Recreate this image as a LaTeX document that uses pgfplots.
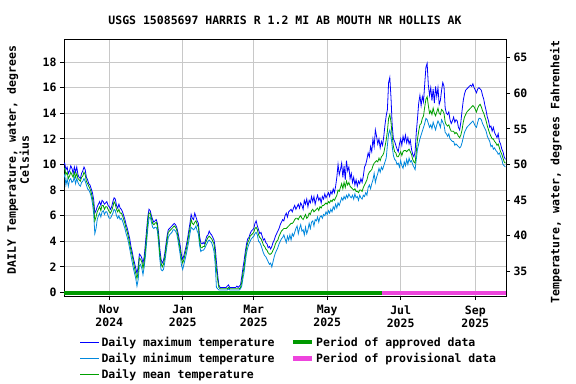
\documentclass[border=0pt]{standalone}
\usepackage{fontspec}
\setmainfont{DejaVu Sans Mono}
\usepackage{pgfplots}
\pgfplotsset{compat=1.18}
\usepackage{pgfplotstable}
\definecolor{cmax}{HTML}{0000FF}
\definecolor{cmin}{HTML}{0088DD}
\definecolor{cmean}{HTML}{00A000}
\definecolor{capp}{HTML}{009900}
\definecolor{cprov}{HTML}{EE44DD}
\definecolor{cgrid}{HTML}{C8C8C8}
\newcommand{\uf}{\fontsize{11.5bp}{13bp}\selectfont\bfseries}

\pgfplotstableread{
day max min mean
-7 10.0 9.0 9.6
-6 10.1 9.2 9.7
-5 9.6 8.4 9.2
-4 9.8 8.9 9.4
-3 9.3 8.3 8.9
-2 9.5 8.8 9.1
-1 9.9 8.9 9.4
0 9.7 8.6 9.2
1 9.3 8.7 9.0
2 9.8 9.0 9.4
3 9.4 8.5 9.0
4 9.8 8.9 9.3
5 9.2 8.6 8.9
6 9.0 8.4 8.8
7 8.9 8.3 8.7
8 9.3 8.6 9.0
9 9.5 8.7 9.1
10 9.8 8.9 9.4
11 9.6 8.7 9.2
12 9.0 8.4 8.7
13 8.8 8.1 8.5
14 8.5 8.0 8.3
15 8.4 7.8 8.1
16 8.1 7.5 7.8
17 7.8 7.0 7.4
18 7.3 6.2 6.8
19 6.2 4.6 5.6
20 6.4 5.0 5.9
21 6.7 5.7 6.3
22 6.9 6.0 6.5
23 7.1 6.2 6.7
24 6.8 5.9 6.4
25 7.2 6.3 6.8
26 7.1 6.4 6.8
27 6.9 6.1 6.5
28 7.0 6.3 6.7
29 7.1 6.3 6.7
30 6.8 6.0 6.5
31 6.7 5.8 6.3
32 6.5 5.8 6.2
33 6.7 6.0 6.4
34 7.1 6.2 6.7
35 7.4 6.5 7.1
36 7.3 6.4 6.9
37 6.8 6.0 6.5
38 6.6 5.8 6.3
39 6.9 6.0 6.5
40 6.6 5.7 6.2
41 6.5 5.8 6.2
42 6.3 5.6 6.0
43 6.0 5.3 5.7
44 5.7 5.0 5.4
45 5.3 4.6 5.0
46 5.0 4.3 4.7
47 4.6 3.9 4.3
48 4.2 3.4 3.8
49 3.6 2.9 3.3
50 3.2 2.4 2.9
51 2.7 1.9 2.4
52 2.3 1.5 1.9
53 1.9 1.1 1.5
54 1.5 0.5 1.1
55 2.0 1.0 1.6
56 3.0 2.1 2.7
57 2.9 2.2 2.6
58 2.7 1.9 2.4
59 2.3 1.4 1.9
60 2.8 2.0 2.4
61 3.8 2.8 3.3
62 4.9 3.9 4.4
63 5.9 5.0 5.6
64 6.5 5.8 6.2
65 6.4 5.9 6.2
66 6.0 5.5 5.8
67 5.7 5.1 5.4
68 5.5 5.0 5.3
69 5.6 5.1 5.4
70 5.7 5.1 5.5
71 5.4 4.8 5.2
72 4.6 3.8 4.2
73 3.4 2.6 3.0
74 2.6 1.8 2.3
75 2.3 1.7 2.0
76 2.5 1.8 2.2
77 3.0 2.3 2.7
78 3.7 3.0 3.4
79 4.4 3.7 4.1
80 4.9 4.3 4.7
81 5.0 4.5 4.8
82 5.1 4.6 4.9
83 5.2 4.7 5.0
84 5.3 4.9 5.1
85 5.4 4.9 5.2
86 5.3 4.8 5.1
87 5.1 4.6 4.9
88 4.7 4.1 4.4
89 4.2 3.5 3.9
90 3.6 2.9 3.3
91 2.9 2.1 2.6
92 2.6 1.8 2.3
93 2.9 2.2 2.6
94 3.3 2.6 3.0
95 3.7 3.0 3.4
96 4.2 3.5 3.9
97 4.8 4.0 4.5
98 5.4 4.6 5.0
99 6.1 5.1 5.7
100 5.8 5.0 5.4
101 5.7 4.9 5.3
102 6.2 5.0 5.5
103 5.9 5.2 5.6
104 5.6 4.8 5.3
105 5.4 4.6 5.1
106 4.4 3.7 4.1
107 3.9 3.2 3.5
108 3.8 3.3 3.5
109 3.9 3.3 3.6
110 3.8 3.4 3.6
111 4.1 3.6 3.9
112 4.4 3.8 4.1
113 4.5 4.0 4.3
114 4.8 4.1 4.4
115 4.6 4.0 4.3
116 4.5 3.9 4.2
117 4.3 3.6 4.0
118 4.1 3.2 3.8
119 3.5 2.2 3.0
120 2.4 0.4 1.8
121 1.4 0.3 1.0
122 0.6 0.2 0.4
123 0.4 0.2 0.3
124 0.4 0.2 0.3
125 0.4 0.2 0.3
126 0.4 0.2 0.3
127 0.4 0.2 0.3
128 0.4 0.2 0.3
129 0.5 0.2 0.3
130 0.6 0.3 0.4
131 0.4 0.2 0.3
132 0.4 0.2 0.3
133 0.4 0.2 0.3
134 0.4 0.2 0.3
135 0.4 0.2 0.3
136 0.4 0.2 0.3
137 0.5 0.2 0.3
138 0.4 0.2 0.3
139 0.5 0.2 0.3
140 0.6 0.3 0.4
141 1.2 0.5 0.8
142 1.9 1.1 1.5
143 2.5 1.6 2.0
144 3.2 2.4 2.8
145 3.8 3.1 3.5
146 4.2 3.5 3.9
147 4.3 3.8 4.1
148 4.6 4.0 4.4
149 4.8 4.2 4.5
150 4.9 4.3 4.6
151 5.0 4.4 4.7
152 5.4 4.6 5.0
153 5.6 4.7 5.1
154 5.2 4.5 4.9
155 4.9 4.0 4.5
156 4.6 3.9 4.3
157 4.7 3.7 4.2
158 4.4 3.4 4.0
159 4.1 3.1 3.7
160 4.2 2.9 3.6
161 3.9 2.8 3.4
162 3.8 2.6 3.3
163 3.5 2.4 3.1
164 3.6 2.2 3.0
165 3.4 2.3 3.0
166 3.6 2.0 3.1
167 3.9 2.4 3.3
168 4.1 2.8 3.5
169 4.4 3.1 3.8
170 4.6 3.3 4.0
171 4.8 3.5 4.1
172 5.0 3.8 4.4
173 5.3 4.0 4.6
174 5.5 4.2 4.8
175 5.7 4.3 4.9
176 5.6 4.5 5.0
177 6.0 4.2 5.0
178 6.2 3.9 5.0
179 5.9 4.4 5.1
180 6.3 4.1 5.2
181 6.4 4.5 5.3
182 6.5 4.1 5.4
183 6.3 4.6 5.4
184 6.6 4.4 5.5
185 6.8 4.7 5.7
186 6.5 5.0 5.8
187 6.7 5.2 5.8
188 6.9 4.6 5.7
189 6.6 5.0 5.9
190 7.0 5.3 6.0
191 6.8 4.8 5.8
192 6.5 4.9 5.7
193 7.2 4.5 5.9
194 6.9 5.1 6.1
195 7.3 4.6 5.8
196 6.7 4.9 5.9
197 7.2 5.4 6.2
198 7.0 5.0 6.1
199 7.5 5.5 6.4
200 7.1 5.6 6.5
201 7.5 5.2 6.3
202 6.9 5.7 6.4
203 7.3 5.6 6.5
204 7.6 5.9 6.6
205 7.2 5.5 6.4
206 7.4 5.9 6.7
207 7.0 6.0 6.6
208 7.5 5.8 6.8
209 7.3 6.1 6.8
210 7.7 6.0 6.9
211 7.4 6.3 7.0
212 7.6 6.1 6.9
213 7.8 6.4 7.1
214 7.5 6.2 7.0
215 7.9 6.5 7.2
216 7.7 6.3 7.1
217 8.1 6.7 7.3
218 7.8 6.5 7.2
219 8.3 6.9 7.4
220 9.0 6.6 7.6
221 10.0 7.0 8.0
222 9.2 6.8 7.9
223 9.6 7.1 8.2
224 10.1 7.4 8.5
225 9.0 7.2 8.1
226 9.9 7.5 8.6
227 8.8 7.3 8.2
228 10.3 7.6 8.7
229 9.5 7.4 8.4
230 9.8 7.7 8.6
231 8.9 7.5 8.3
232 9.3 7.4 8.2
233 8.6 7.6 8.1
234 9.0 7.3 8.0
235 8.4 7.7 8.1
236 8.8 7.4 7.9
237 8.3 7.5 7.9
238 8.7 7.2 7.8
239 8.5 7.6 8.0
240 8.9 7.4 8.0
241 8.6 7.3 7.9
242 9.1 7.6 8.2
243 9.8 7.5 8.4
244 10.0 7.8 8.6
245 10.4 7.6 8.8
246 10.9 8.2 9.2
247 10.6 8.4 9.4
248 11.4 8.1 9.5
249 11.0 8.5 9.6
250 12.0 8.8 9.9
251 11.4 9.3 10.1
252 12.7 8.6 10.2
253 12.2 9.0 10.3
254 11.6 9.3 10.2
255 12.0 9.7 10.5
256 11.3 9.4 10.3
257 11.8 9.8 10.6
258 11.5 9.6 10.7
259 12.2 9.9 10.9
260 13.1 10.2 11.4
261 13.8 10.5 11.9
262 14.3 11.5 12.6
263 16.4 12.4 13.6
264 16.8 12.7 13.9
265 15.2 12.2 13.3
266 13.0 11.4 12.2
267 12.0 10.7 11.4
268 11.8 10.4 11.0
269 11.5 10.3 10.9
270 11.2 10.0 10.6
271 11.0 10.1 10.6
272 11.6 9.8 10.8
273 12.0 10.3 11.0
274 11.5 9.9 10.7
275 12.2 9.7 11.0
276 11.8 10.2 11.1
277 12.3 9.9 11.1
278 11.7 10.4 11.0
279 12.1 10.0 11.1
280 11.6 10.5 11.2
281 11.9 10.2 11.0
282 11.2 10.3 10.8
283 10.8 10.0 10.4
284 10.6 9.8 10.2
285 11.0 9.6 10.1
286 12.5 10.4 11.0
287 13.6 11.2 12.0
288 14.8 11.6 12.6
289 15.4 12.0 13.1
290 14.6 12.3 13.2
291 15.3 12.6 13.6
292 14.9 12.9 13.8
293 16.3 13.2 14.5
294 17.6 13.6 15.1
295 17.9 13.5 15.3
296 16.2 13.2 14.6
297 15.4 12.9 14.0
298 16.0 13.1 14.2
299 15.0 12.8 13.9
300 15.9 13.3 14.4
301 14.8 13.0 14.0
302 16.1 12.7 13.8
303 15.3 13.1 14.1
304 16.0 13.4 14.4
305 14.7 13.2 14.0
306 15.0 12.9 13.9
307 15.8 13.5 14.3
308 16.4 13.3 14.2
309 16.1 13.1 14.0
310 14.4 12.5 13.3
311 14.0 12.4 13.1
312 13.9 12.2 13.0
313 14.1 12.4 13.1
314 13.5 12.0 12.8
315 13.2 11.9 12.6
316 13.4 11.8 12.6
317 13.7 11.8 12.6
318 13.3 11.5 12.4
319 13.5 11.6 12.5
320 13.4 11.5 12.4
321 12.9 11.4 12.2
322 12.7 11.3 12.1
323 13.3 11.4 12.3
324 14.2 11.7 12.7
325 15.0 12.1 13.3
326 15.5 12.5 13.7
327 15.8 12.7 13.9
328 15.9 12.9 14.1
329 16.0 13.0 14.2
330 16.1 13.1 14.3
331 16.2 13.2 14.4
332 16.1 13.3 14.5
333 16.3 13.4 14.6
334 16.0 13.2 14.5
335 15.8 13.0 14.3
336 15.6 12.9 14.1
337 15.9 13.3 14.4
338 16.0 13.6 14.6
339 15.9 13.6 14.7
340 15.8 13.5 14.5
341 15.4 13.2 14.2
342 15.1 13.0 14.0
343 14.6 12.8 13.7
344 14.2 12.6 13.4
345 13.7 12.2 13.0
346 13.4 12.0 12.7
347 12.9 11.8 12.4
348 13.0 11.4 12.2
349 12.6 11.5 12.0
350 12.9 11.2 12.0
351 12.5 11.3 11.8
352 12.3 11.1 11.7
353 12.1 11.0 11.5
354 12.4 10.8 11.6
355 11.8 10.9 11.3
356 11.6 10.6 11.0
357 11.2 10.4 10.8
358 11.0 10.0 10.5
359 10.6 9.9 10.2
360 10.4 9.8 10.1
}\temps

\begin{document}
\begin{tikzpicture}
\useasboundingbox (0,0) rectangle (576bp,384bp);
\begin{axis}[
  at={(64bp,88bp)}, anchor=south west, scale only axis,
  width=442bp, height=257bp,
  xmin=-6.6, xmax=360.5, ymin=-0.27, ymax=19.8,
  ytick={0,2,...,18}, ytick pos=left,
  xtick={31,92,151,212,273,335},
  xticklabels={{Nov\\2024},{Jan\\2025},{Mar\\2025},{May\\2025},{Jul\\2025},{Sep\\2025}},
  xticklabel style={align=center, yshift=-2bp},
  xtick pos=bottom,
  tick align=outside, major tick length=4bp,
  grid=major, major grid style={cgrid, line width=0.9bp},
  axis line style={line width=0.9bp, black},
  tick style={black, line width=0.9bp},
  tick label style={font=\uf},
  /pgf/number format/assume math mode=true,
  legend columns=2,
  legend style={at={(0.035,-0.15)}, anchor=north west, draw=none, fill=none,
    font=\uf, inner sep=0pt, row sep=1.5bp,
    /tikz/every even column/.append style={column sep=14bp}},
  legend cell align=left,
  legend image code/.code={\draw[#1] (0bp,0bp) -- (19bp,0bp);},
]
\addplot[cmax, line width=0.8bp, forget plot] table[x=day, y=max] {\temps};
\addplot[cmin, line width=0.8bp, forget plot] table[x=day, y=min] {\temps};
\addplot[cmean, line width=0.8bp, forget plot] table[x=day, y=mean] {\temps};
\addplot[capp, line width=4bp, forget plot] coordinates {(-6.6,-0.04) (257.4,-0.04)};
\addplot[cprov, line width=4bp, forget plot] coordinates {(257.4,-0.04) (360.5,-0.04)};
\addlegendimage{cmax, line width=0.9bp}
\addlegendentry{Daily maximum temperature}
\addlegendimage{capp, line width=4.5bp}
\addlegendentry{Period of approved data}
\addlegendimage{cmin, line width=0.9bp}
\addlegendentry{Daily minimum temperature}
\addlegendimage{cprov, line width=4.5bp}
\addlegendentry{Period of provisional data}
\addlegendimage{cmean, line width=0.9bp}
\addlegendentry{Daily mean temperature}
\end{axis}
\begin{axis}[
  at={(64bp,88bp)}, anchor=south west, scale only axis,
  width=442bp, height=257bp,
  xmin=-6.6, xmax=360.5, ymin=31.514, ymax=67.64,
  axis x line=none, axis y line*=right,
  ytick={35,40,...,65},
  tick align=outside, major tick length=4bp,
  axis line style={line width=0.9bp, black},
  tick style={black, line width=0.9bp},
  tick label style={font=\uf},
  /pgf/number format/assume math mode=true,
]
\end{axis}
\node[font=\uf] at (285bp,364bp) {USGS 15085697 HARRIS R 1.2 MI AB MOUTH NR HOLLIS AK};
\node[font=\uf, rotate=90, align=center] at (18bp,224bp) {DAILY Temperature, water, degrees\\Celsius};
\node[font=\uf, rotate=90] at (556bp,212bp) {Temperature, water, degrees Fahrenheit};
\end{tikzpicture}
\end{document}
